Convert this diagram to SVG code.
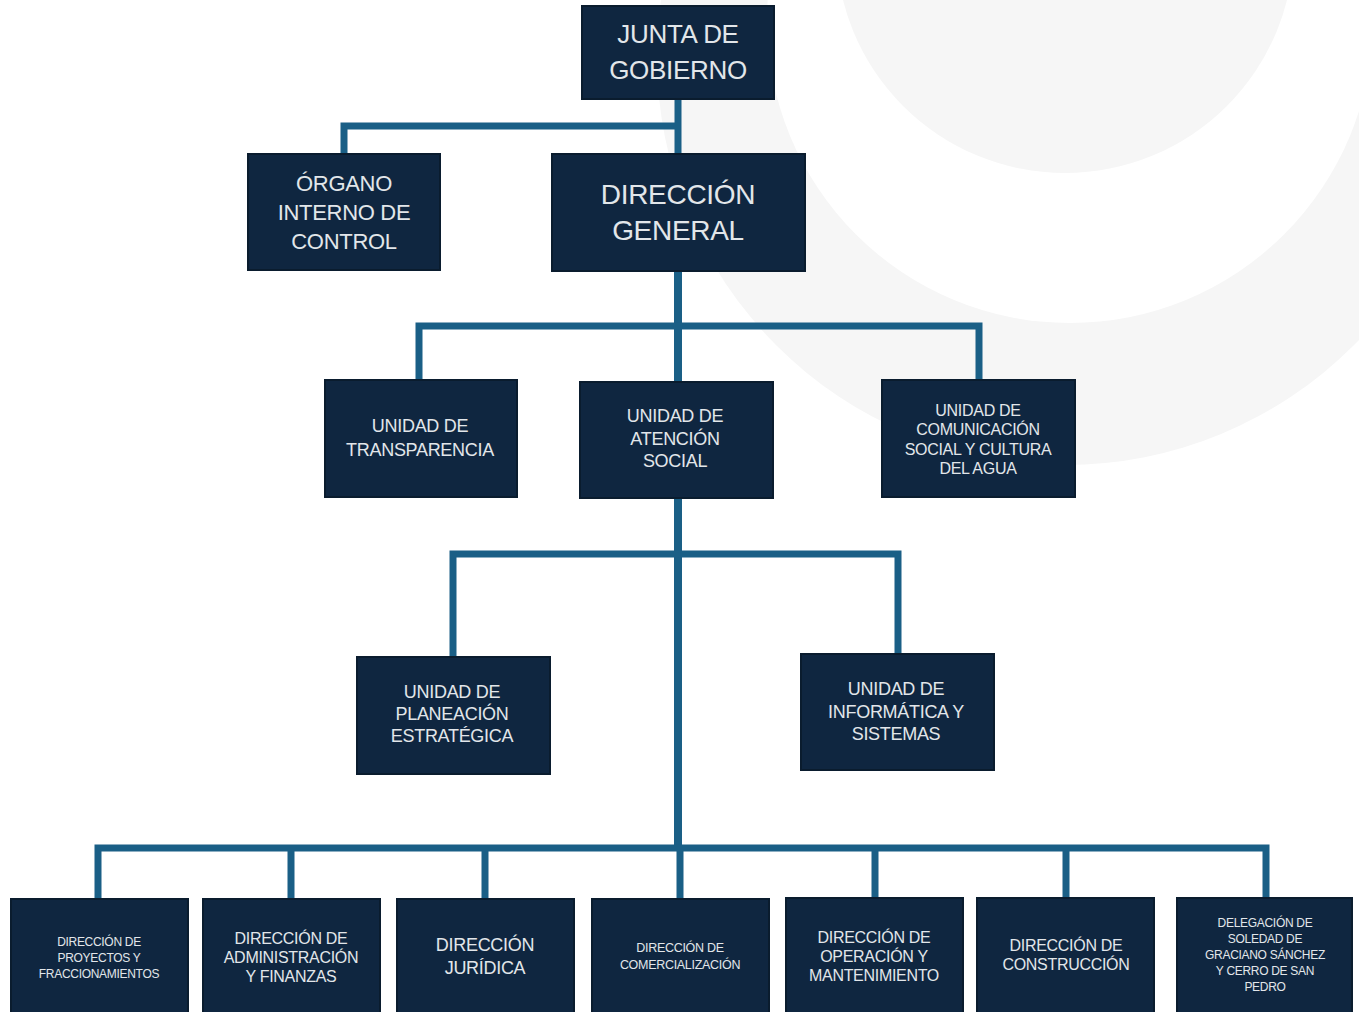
<svg xmlns="http://www.w3.org/2000/svg" width="1359" height="1012" viewBox="0 0 1359 1012">
<style>
.box{fill:#0f2640;stroke:#0a1c2e;stroke-width:2}
.t{font-family:"Liberation Sans",Arial,sans-serif;fill:#e2e6ea;text-anchor:middle;letter-spacing:-0.3px}
.ln{stroke:#1a5f86;stroke-width:7;fill:none;stroke-linecap:butt}
.bg{fill:#f6f6f6}
</style>
<rect width="1359" height="1012" fill="#ffffff"/>
<g id="background">
<circle class="bg" cx="1065" cy="57" r="408"/>
<circle cx="1070" cy="20" r="303" fill="#ffffff"/>
<circle class="bg" cx="1065" cy="-56" r="229"/>
</g>
<g id="connectors">
<path class="ln" d="M678,99V154M344,154V126H678"/>
<path class="ln" style="stroke-width:8" d="M678,271V382M678,498V848"/>
<path class="ln" d="M419,380V326H979V380"/>
<path class="ln" d="M453,657V554H898V654"/>
<path class="ln" d="M98,899V848H1266V899M291,848V899M485,848V899M680,848V899M875,848V899M1066,848V899"/>
</g>
<g id="junta"><rect class="box" x="582" y="6" width="192" height="93"/>
<text class="t" font-size="26"><tspan x="678" y="43">JUNTA DE</tspan><tspan x="678" y="79">GOBIERNO</tspan></text></g>
<g id="organo"><rect class="box" x="248" y="154" width="192" height="116"/>
<text class="t" font-size="22"><tspan x="344" y="191">ÓRGANO</tspan><tspan x="344" y="220">INTERNO DE</tspan><tspan x="344" y="249">CONTROL</tspan></text></g>
<g id="direccion-general"><rect class="box" x="552" y="154" width="253" height="117"/>
<text class="t" font-size="28"><tspan x="678" y="204">DIRECCIÓN</tspan><tspan x="678" y="240">GENERAL</tspan></text></g>
<g id="transparencia"><rect class="box" x="325" y="380" width="192" height="117"/>
<text class="t" font-size="18"><tspan x="420" y="432">UNIDAD DE</tspan><tspan x="420" y="456">TRANSPARENCIA</tspan></text></g>
<g id="atencion-social"><rect class="box" x="580" y="382" width="193" height="116"/>
<text class="t" font-size="18"><tspan x="675" y="422">UNIDAD DE</tspan><tspan x="675" y="445">ATENCIÓN</tspan><tspan x="675" y="467">SOCIAL</tspan></text></g>
<g id="comunicacion"><rect class="box" x="882" y="380" width="193" height="117"/>
<text class="t" font-size="16"><tspan x="978" y="416">UNIDAD DE</tspan><tspan x="978" y="435">COMUNICACIÓN</tspan><tspan x="978" y="455">SOCIAL Y CULTURA</tspan><tspan x="978" y="474">DEL AGUA</tspan></text></g>
<g id="planeacion"><rect class="box" x="357" y="657" width="193" height="117"/>
<text class="t" font-size="18"><tspan x="452" y="698">UNIDAD DE</tspan><tspan x="452" y="720">PLANEACIÓN</tspan><tspan x="452" y="742">ESTRATÉGICA</tspan></text></g>
<g id="informatica"><rect class="box" x="801" y="654" width="193" height="116"/>
<text class="t" font-size="18"><tspan x="896" y="695">UNIDAD DE</tspan><tspan x="896" y="718">INFORMÁTICA Y</tspan><tspan x="896" y="740">SISTEMAS</tspan></text></g>
<g id="proyectos"><rect class="box" x="11" y="899" width="177" height="120"/>
<text class="t" font-size="12"><tspan x="99" y="946">DIRECCIÓN DE</tspan><tspan x="99" y="962">PROYECTOS Y</tspan><tspan x="99" y="978">FRACCIONAMIENTOS</tspan></text></g>
<g id="administracion"><rect class="box" x="203" y="899" width="177" height="120"/>
<text class="t" font-size="16"><tspan x="291" y="944">DIRECCIÓN DE</tspan><tspan x="291" y="963">ADMINISTRACIÓN</tspan><tspan x="291" y="982">Y FINANZAS</tspan></text></g>
<g id="juridica"><rect class="box" x="397" y="899" width="177" height="120"/>
<text class="t" font-size="18"><tspan x="485" y="951">DIRECCIÓN</tspan><tspan x="485" y="974">JURÍDICA</tspan></text></g>
<g id="comercializacion"><rect class="box" x="592" y="899" width="177" height="120"/>
<text class="t" font-size="12.5"><tspan x="680" y="952">DIRECCIÓN DE</tspan><tspan x="680" y="969">COMERCIALIZACIÓN</tspan></text></g>
<g id="operacion"><rect class="box" x="786" y="898" width="177" height="120"/>
<text class="t" font-size="16"><tspan x="874" y="943">DIRECCIÓN DE</tspan><tspan x="874" y="962">OPERACIÓN Y</tspan><tspan x="874" y="981">MANTENIMIENTO</tspan></text></g>
<g id="construccion"><rect class="box" x="977" y="898" width="177" height="120"/>
<text class="t" font-size="16"><tspan x="1066" y="951">DIRECCIÓN DE</tspan><tspan x="1066" y="970">CONSTRUCCIÓN</tspan></text></g>
<g id="delegacion"><rect class="box" x="1177" y="898" width="175" height="120"/>
<text class="t" font-size="12"><tspan x="1265" y="927">DELEGACIÓN DE</tspan><tspan x="1265" y="943">SOLEDAD DE</tspan><tspan x="1265" y="959">GRACIANO SÁNCHEZ</tspan><tspan x="1265" y="975">Y CERRO DE SAN</tspan><tspan x="1265" y="991">PEDRO</tspan></text></g>
</svg>
